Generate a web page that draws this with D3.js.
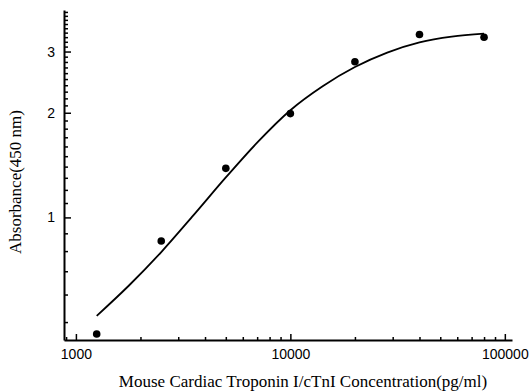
<!DOCTYPE html>
<html>
<head>
<meta charset="utf-8">
<script src="https://cdn.jsdelivr.net/npm/d3@7"></script>
<style>
  body { margin: 0; background: #fff; }
  .tick text { font-family: "Liberation Sans", Arial, sans-serif; font-size: 14px; fill: #000; }
  .axis-label { font-family: "Liberation Serif", "Times New Roman", serif; font-size: 17px; fill: #000; }
</style>
</head>
<body>
<div id="chart"></div>
<script>
// Standard points (pg/ml vs OD450)
const concentration = [1250, 2500, 5000, 10000, 20000, 40000, 80000];
const absorbance = [0.462, 0.855, 1.384, 1.989, 2.803, 3.358, 3.298];

// Fitted curve
const fitConc = [1250, 1768, 2500, 3536, 5000, 7071, 10000, 14142, 20000, 28284, 40000, 56569, 80000];
const fitAbs = [0.521, 0.637, 0.795, 1.015, 1.303, 1.652, 2.034, 2.384, 2.707, 2.979, 3.187, 3.311, 3.376];

// Tick values
const xMajorTicks = [1000, 10000, 100000];
const xMinorTicks = [900, 2000, 3000, 4000, 5000, 6000, 7000, 8000, 9000,
  20000, 30000, 40000, 50000, 60000, 70000, 80000, 90000];
const yMajorTicks = [1, 2, 3];
const yMinorTicks = [0.5, 0.6, 0.7, 0.8, 0.9,
  1.1, 1.2, 1.3, 1.4, 1.5, 1.6, 1.7, 1.8, 1.9,
  2.1, 2.2, 2.3, 2.4, 2.5, 2.6, 2.7, 2.8, 2.9,
  3.1, 3.2, 3.3, 3.4, 3.5, 3.6, 3.7, 3.8, 3.9];

const W = 530, H = 392;
const x0 = 64, x1 = 512, yBottom = 340, yTop = 10;

const svg = d3.select('#chart').append('svg')
  .attr('width', W)
  .attr('height', H);

const xScale = d3.scaleLog().domain([880, 108000]).range([x0, x1]);
const yScale = d3.scaleLog().domain([0.444, 3.95]).range([yBottom, yTop]);

// X axis: minor then major ticks, pointing inward
svg.append('g')
  .attr('transform', `translate(0, ${yBottom})`)
  .call(d3.axisBottom(xScale).tickValues(xMinorTicks).tickSize(-3).tickFormat(''))
  .call(g => g.select('.domain').remove())
  .call(g => g.selectAll('line').attr('stroke', '#000').attr('stroke-width', 1.5));

svg.append('g')
  .attr('transform', `translate(0, ${yBottom})`)
  .call(d3.axisBottom(xScale).tickValues(xMajorTicks).tickSize(-6).tickSizeOuter(0)
    .tickPadding(9).tickFormat(d3.format('d')))
  .call(g => g.select('.domain').attr('stroke', '#000').attr('stroke-width', 2))
  .call(g => g.selectAll('line').attr('stroke', '#000').attr('stroke-width', 1.5));

// Y axis
svg.append('g')
  .attr('transform', `translate(${x0}, 0)`)
  .call(d3.axisLeft(yScale).tickValues(yMinorTicks).tickSize(-4).tickFormat(''))
  .call(g => g.select('.domain').remove())
  .call(g => g.selectAll('line').attr('stroke', '#000').attr('stroke-width', 1.5));

svg.append('g')
  .attr('transform', `translate(${x0}, 0)`)
  .call(d3.axisLeft(yScale).tickValues(yMajorTicks).tickSize(-7).tickSizeOuter(0)
    .tickPadding(9).tickFormat(d3.format('d')))
  .call(g => g.select('.domain').attr('stroke', '#000').attr('stroke-width', 2))
  .call(g => g.selectAll('line').attr('stroke', '#000').attr('stroke-width', 1.5));

// Fitted curve
const line = d3.line()
  .x((d, i) => xScale(fitConc[i]))
  .y((d) => yScale(d))
  .curve(d3.curveMonotoneX);

svg.append('path')
  .datum(fitAbs)
  .attr('d', line)
  .attr('fill', 'none')
  .attr('stroke', '#000')
  .attr('stroke-width', 1.8);

// Points
svg.selectAll('.pt')
  .data(absorbance)
  .enter()
  .append('circle')
  .attr('class', 'pt')
  .attr('cx', (d, i) => xScale(concentration[i]))
  .attr('cy', (d) => yScale(d))
  .attr('r', 3.8)
  .attr('fill', '#000');

// Axis labels
svg.append('text')
  .attr('class', 'axis-label')
  .attr('x', 303)
  .attr('y', 387)
  .attr('text-anchor', 'middle')
  .text('Mouse Cardiac Troponin I/cTnI Concentration(pg/ml)');

svg.append('text')
  .attr('class', 'axis-label')
  .attr('transform', 'translate(21, 182) rotate(-90)')
  .attr('text-anchor', 'middle')
  .text('Absorbance(450 nm)');
</script>
</body>
</html>
